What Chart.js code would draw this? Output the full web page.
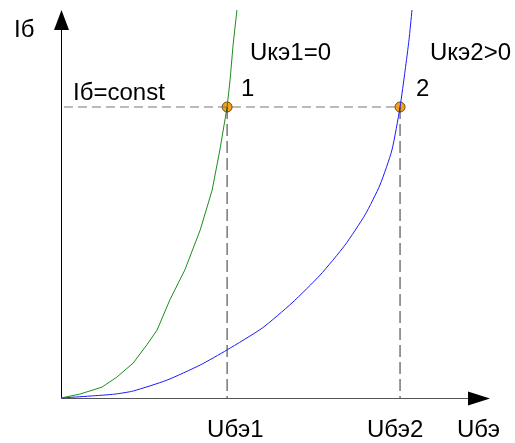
<!DOCTYPE html>
<html>
<head>
<meta charset="utf-8">
<script src="https://cdn.jsdelivr.net/npm/chart.js@4.4.0/dist/chart.umd.min.js"></script>
<style>
  html, body { margin: 0; padding: 0; background: #fff; }
  #wrap { width: 515px; height: 443px; }
</style>
</head>
<body>
<div id="wrap"><canvas id="vac"></canvas></div>
<script>
// ===============================
// DATA: input characteristics Iб(Uбэ)
// ===============================

// Uкэ1 = 0
const greenX = [0, 0.44, 0.96, 1.31, 1.69, 2.01, 2.25, 2.55, 2.90, 3.26, 3.54, 3.72, 3.89, 3.96, 4.03, 4.12];
const greenY = [0, 0.10, 0.28, 0.54, 0.90, 1.37, 1.75, 2.53, 3.30, 4.33, 5.36, 6.39, 7.50, 8.20, 9.10, 10.0];

// Uкэ2 > 0
const blueX = [0, 0.68, 1.26, 1.69, 2.48, 3.26, 3.89, 4.71, 5.41, 6.07, 6.65, 7.12, 7.47, 7.75, 7.94, 8.06, 8.15, 8.22];
const blueY = [0, 0.05, 0.10, 0.18, 0.46, 0.85, 1.24, 1.80, 2.45, 3.17, 3.94, 4.72, 5.49, 6.39, 7.50, 8.45, 9.23, 10.0];

const ibConst = 7.5;        // Iб = const
const ube1 = 3.89;          // Uбэ1
const ube2 = 7.94;          // Uбэ2
const axisMax = 10;

const toPts = (xs, ys) => xs.map((x, i) => ({ x, y: ys[i] }));

// ===============================
// AXES, ARROWS, TEXT
// ===============================

const FONT = '24px "Liberation Sans", Arial, sans-serif';

const decorPlugin = {
  id: "decor",
  beforeDatasetsDraw(chart) {
    const { ctx, scales: { x, y } } = chart;
    const x0 = x.getPixelForValue(0), y0 = y.getPixelForValue(0);
    const xe = x.getPixelForValue(axisMax), ye = y.getPixelForValue(axisMax);
    ctx.save();
    // y axis
    ctx.strokeStyle = "#000";
    ctx.lineWidth = 1;
    ctx.beginPath();
    ctx.moveTo(x0 + 0.5, y0);
    ctx.lineTo(x0 + 0.5, ye + 10);
    ctx.stroke();
    ctx.fillStyle = "#000";
    ctx.beginPath();
    ctx.moveTo(x0 + 0.5, ye);
    ctx.lineTo(x0 - 7, ye + 20);
    ctx.lineTo(x0 + 8, ye + 20);
    ctx.closePath();
    ctx.fill();
    // x axis
    ctx.strokeStyle = "#555";
    ctx.beginPath();
    ctx.moveTo(x0, y0 + 0.5);
    ctx.lineTo(xe - 10, y0 + 0.5);
    ctx.stroke();
    ctx.beginPath();
    ctx.moveTo(xe + 2, y0 + 0.5);
    ctx.lineTo(xe - 20, y0 - 6.5);
    ctx.lineTo(xe - 20, y0 + 7.5);
    ctx.closePath();
    ctx.fill();
    ctx.restore();
  },
  afterDraw(chart) {
    const { ctx, scales: { x, y } } = chart;
    const px1 = x.getPixelForValue(ube1), px2 = x.getPixelForValue(ube2);
    const py = y.getPixelForValue(ibConst);
    const x0 = x.getPixelForValue(0), y0 = y.getPixelForValue(0);
    ctx.save();
    ctx.font = FONT;
    ctx.fillStyle = "#000";
    ctx.textBaseline = "alphabetic";
    ctx.fillText("Iб", 14, 37);
    ctx.fillText("Iб=const", x0 + 12, py - 7);
    ctx.fillText("1", px1 + 14, py - 11);
    ctx.fillText("2", px2 + 16, py - 11);
    ctx.fillText("Uкэ1=0", 250, 60);
    ctx.fillText("Uкэ2>0", 430, 60);
    ctx.fillText("Uбэ1", px1 - 20, y0 + 39);
    ctx.fillText("Uбэ2", px2 - 33, y0 + 39);
    ctx.fillText("Uбэ", 457, y0 + 39);
    ctx.restore();
  }
};

// ===============================
// CHART
// ===============================

new Chart(document.getElementById("vac"), {
  type: "scatter",
  data: {
    datasets: [
      {
        label: "Iб=const",
        data: [{ x: 0.07, y: ibConst }, { x: ube2, y: ibConst }],
        showLine: true,
        borderColor: "#777",
        borderWidth: 1,
        borderDash: [9, 5],
        pointRadius: 0
      },
      {
        label: "Uбэ1",
        data: [{ x: ube1, y: ibConst }, { x: ube1, y: 0 }],
        showLine: true,
        borderColor: "#333",
        borderWidth: 1,
        borderDash: [12, 5],
        pointRadius: 0
      },
      {
        label: "Uбэ2",
        data: [{ x: ube2, y: ibConst }, { x: ube2, y: 0 }],
        showLine: true,
        borderColor: "#333",
        borderWidth: 1,
        borderDash: [12, 5],
        pointRadius: 0
      },
      {
        label: "Uкэ1=0",
        data: toPts(greenX, greenY),
        showLine: true,
        borderColor: "#1e8c1e",
        borderWidth: 1,
        tension: 0,
        pointRadius: 0
      },
      {
        label: "Uкэ2>0",
        data: toPts(blueX, blueY),
        showLine: true,
        borderColor: "#1a1aff",
        borderWidth: 1,
        tension: 0.2,
        pointRadius: 0
      },
      {
        label: "points",
        data: [{ x: ube1, y: ibConst }, { x: ube2, y: ibConst }],
        showLine: false,
        pointRadius: 5,
        pointBackgroundColor: "#f7a01c",
        pointBorderColor: "#7a4a00",
        pointBorderWidth: 1
      }
    ]
  },
  options: {
    responsive: true,
    maintainAspectRatio: false,
    animation: false,
    clip: false,
    layout: { padding: { left: 61, right: 27, top: 10, bottom: 45 } },
    plugins: {
      legend: { display: false },
      tooltip: { enabled: false }
    },
    scales: {
      x: { type: "linear", min: 0, max: axisMax, display: false },
      y: { type: "linear", min: 0, max: axisMax, display: false }
    }
  },
  plugins: [decorPlugin]
});
</script>
</body>
</html>
